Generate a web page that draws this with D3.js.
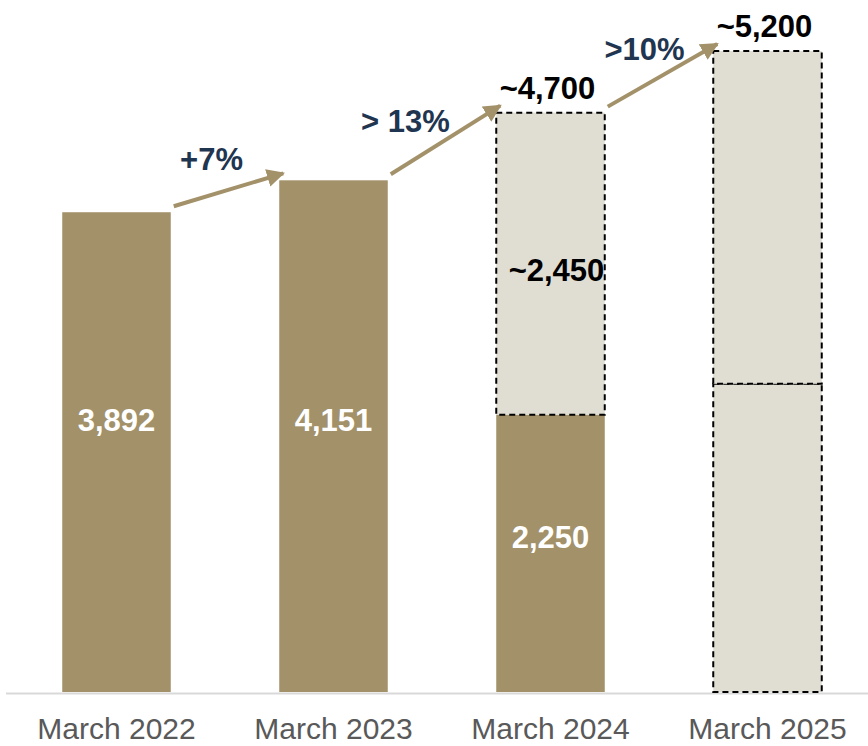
<!DOCTYPE html>
<html>
<head>
<meta charset="utf-8">
<script src="https://cdn.jsdelivr.net/npm/d3@7"></script>
<style>
  body { margin: 0; background: #fff; }
  svg { display: block; font-family: "Liberation Sans", Arial, sans-serif; }
</style>
</head>
<body>
<div id="chart"></div>
<script>
//////////////////// DATA ////////////////////
var categories  = ["March 2022", "March 2023", "March 2024", "March 2025"];
var actualVals  = [3892, 4151, 2250, null];     // solid part
var plannedVals = [null, null, 2450, 2700];     // dashed part on top
var baseVals    = [null, null, null, 2500];     // dashed base (2025)
var totalLabels = [null, null, "~4,700", "~5,200"];
var growthLabels = ["+7%", "> 13%", ">10%"];

//////////////////// CONFIG ////////////////////
var width = 868, height = 746;
var tan = "#a39169", light = "#e0ddd3", navy = "#1f3550";
var boldSize = 31;
// small hand nudges for the annotation texts [dx, dy]
var growthNudge = [[-17, -20], [-40, -8], [-18, -15]];
var inBarNudge  = [-32, -16, -16];

var svg = d3.select("#chart").append("svg")
    .attr("width", width).attr("height", height);

var x = d3.scaleBand().domain(categories).range([8, 876])
    .paddingInner(0.5).paddingOuter(0.25);
var y = d3.scaleLinear().domain([0, 5200]).range([692, 51]);

// build stacked segments
var segs = [];
categories.forEach(function(c, i) {
  var base = 0;
  if (actualVals[i] != null) {
    segs.push({cat: c, y0: 0, y1: actualVals[i], kind: "solid", label: d3.format(",")(actualVals[i]), i: i});
    base = actualVals[i];
  }
  if (baseVals[i] != null) {
    segs.push({cat: c, y0: 0, y1: baseVals[i], kind: "dash", label: null, i: i});
    base = baseVals[i];
  }
  if (plannedVals[i] != null) {
    segs.push({cat: c, y0: base, y1: base + plannedVals[i], kind: "dash",
      label: actualVals[i] != null ? "~" + d3.format(",")(plannedVals[i]) : null, i: i});
  }
});

function topOf(i) {
  return d3.max(segs.filter(function(s) { return s.i === i; }), function(s) { return s.y1; });
}

// axis line
svg.append("line")
    .attr("x1", 6).attr("x2", 868)
    .attr("y1", y(0) + 1.5).attr("y2", y(0) + 1.5)
    .attr("stroke", "#d9d9d9").attr("stroke-width", 2);

// bars
svg.append("g").selectAll("rect")
  .data(segs).enter().append("rect")
    .attr("x", function(d) { return x(d.cat); })
    .attr("width", x.bandwidth())
    .attr("y", function(d) { return y(d.y1); })
    .attr("height", function(d) { return y(d.y0) - y(d.y1); })
    .attr("fill", function(d) { return d.kind === "solid" ? tan : light; })
    .attr("stroke", function(d) { return d.kind === "solid" ? "none" : "#000"; })
    .attr("stroke-width", 2)
    .attr("stroke-dasharray", "6,4");

// labels inside bars
var solidIdx = 0;
svg.append("g").selectAll("text")
  .data(segs.filter(function(d) { return d.label; })).enter().append("text")
    .attr("x", function(d) { return x(d.cat) + x.bandwidth() / 2 + (d.kind === "solid" ? 0 : 6); })
    .attr("y", function(d) {
      var mid = (y(d.y0) + y(d.y1)) / 2;
      if (d.kind === "solid") return mid + inBarNudge[solidIdx++];
      return mid + 6;
    })
    .attr("dy", "0.36em")
    .attr("text-anchor", "middle")
    .attr("font-size", boldSize).attr("font-weight", "bold")
    .attr("fill", function(d) { return d.kind === "solid" ? "#fff" : "#000"; })
    .text(function(d) { return d.label; });

// totals above
svg.append("g").selectAll("text")
  .data(categories.filter(function(c, i) { return totalLabels[i]; })).enter().append("text")
    .attr("x", function(c) { return x(c) + x.bandwidth() / 2 - 3; })
    .attr("y", function(c) { return y(topOf(categories.indexOf(c))) - 14; })
    .attr("text-anchor", "middle")
    .attr("font-size", boldSize).attr("font-weight", "bold").attr("fill", "#000")
    .text(function(c) { return totalLabels[categories.indexOf(c)]; });

// growth arrows
svg.append("defs").append("marker")
    .attr("id", "head").attr("viewBox", "0 0 10 10")
    .attr("refX", 9).attr("refY", 5)
    .attr("markerWidth", 4.5).attr("markerHeight", 4.5)
    .attr("markerUnits", "strokeWidth")
    .attr("orient", "auto")
  .append("path").attr("d", "M0,0 L10,5 L0,10 z").attr("fill", tan);

var arrows = growthLabels.map(function(g, i) {
  var a = categories[i], b = categories[i + 1];
  return {
    x1: x(a) + x.bandwidth() + 3, y1: y(topOf(i)) - 6,
    x2: x(b) + 4, y2: y(topOf(i + 1)) - 7,
    label: g, i: i
  };
});

svg.append("g").selectAll("line")
  .data(arrows).enter().append("line")
    .attr("x1", function(d) { return d.x1; }).attr("y1", function(d) { return d.y1; })
    .attr("x2", function(d) { return d.x2; }).attr("y2", function(d) { return d.y2; })
    .attr("stroke", tan).attr("stroke-width", 4)
    .attr("marker-end", "url(#head)");

svg.append("g").selectAll("text")
  .data(arrows).enter().append("text")
    .attr("x", function(d) { return (d.x1 + d.x2) / 2 + growthNudge[d.i][0]; })
    .attr("y", function(d) { return (d.y1 + d.y2) / 2 + growthNudge[d.i][1]; })
    .attr("text-anchor", "middle")
    .attr("font-size", boldSize).attr("font-weight", "bold").attr("fill", navy)
    .text(function(d) { return d.label; });

// category labels
svg.append("g").selectAll("text")
  .data(categories).enter().append("text")
    .attr("x", function(c) { return x(c) + x.bandwidth() / 2; })
    .attr("y", 739)
    .attr("text-anchor", "middle")
    .attr("font-size", 30).attr("fill", "#595959")
    .text(function(c) { return c; });
</script>
</body>
</html>
